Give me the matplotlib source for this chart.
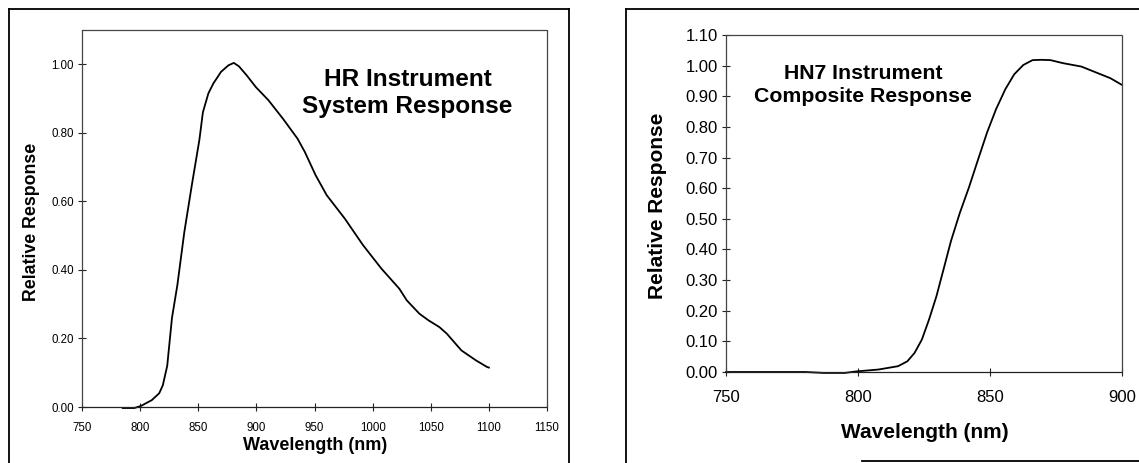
import matplotlib
matplotlib.use("Agg")
import matplotlib.pyplot as plt
from matplotlib.lines import Line2D
import numpy as np

plt.rcParams['font.family'] = ['Liberation Sans', 'DejaVu Sans']

# HR Instrument System Response
hr_wavelength = [785, 795, 800.7, 810, 816.4, 819.5, 823.3, 827.4, 832, 838, 844.6, 851, 854,
                 858.7, 863, 869.6, 876, 880.6, 885, 891.6, 899.4, 910.4, 922.9, 935.4,
                 941.7, 951, 960.5, 976, 991.8, 1007.5, 1023, 1029.4, 1040.3, 1048, 1057.5,
                 1063.8, 1076.4, 1088.9, 1098.3, 1100]
hr_response = [-0.003, -0.003, 0.003, 0.02, 0.04, 0.063, 0.12, 0.26, 0.355, 0.51, 0.65, 0.78, 0.86,
               0.915, 0.944, 0.978, 0.997, 1.004, 0.994, 0.968, 0.934, 0.895, 0.841, 0.783,
               0.744, 0.676, 0.618, 0.55, 0.472, 0.404, 0.345, 0.311, 0.272, 0.253, 0.233,
               0.214, 0.165, 0.136, 0.117, 0.115]

# HN7 Instrument Composite Response
hn7_wavelength = [750, 780, 787, 795, 799.5, 807.7, 815.2, 818.7, 821.4, 824.2, 826.9, 829.7,
                  832.4, 835.2, 838.6, 842, 845.5, 848.9, 852.3, 855.8, 859.2, 862.6, 866.1,
                  869.5, 872.9, 877.7, 884.6, 890.1, 895.6, 900]
hn7_response = [0.0, 0.0, -0.003, -0.003, 0.002, 0.008, 0.019, 0.035, 0.062, 0.106, 0.171, 0.247,
                0.335, 0.427, 0.52, 0.602, 0.694, 0.782, 0.858, 0.923, 0.972, 1.002, 1.018,
                1.019, 1.018, 1.008, 0.997, 0.978, 0.959, 0.937]

hr_xticks = [750, 800, 850, 900, 950, 1000, 1050, 1100, 1150]
hr_yticks = [0.0, 0.2, 0.4, 0.6, 0.8, 1.0]
hn7_xticks = [750, 800, 850, 900]
hn7_yticks = [0.0, 0.1, 0.2, 0.3, 0.4, 0.5, 0.6, 0.7, 0.8, 0.9, 1.0, 1.1]

W, H = 1139, 463
fig = plt.figure(figsize=(W / 100, H / 100), dpi=100)

def fx(px):
    return px / W

def fy(py):
    return 1 - py / H

# Panel borders
for xs, ys in [
    ([9, 9], [9, 470]), ([9, 569], [9, 9]), ([569, 569], [9, 470]),
    ([626, 626], [9, 470]), ([626, 1145], [9, 9]), ([862, 1145], [461, 461]),
]:
    fig.add_artist(Line2D([fx(x) for x in xs], [fy(y) for y in ys], color='black', lw=1.3))

def style_axes(ax, tick_size):
    for s in ax.spines.values():
        s.set_color('#444444')
        s.set_linestyle((0, (1.5, 1)))
        s.set_linewidth(0.9)
    ax.spines['bottom'].set_color('#222222')
    ax.tick_params(direction='inout', length=6, width=0.8, color='#222222',
                   labelsize=tick_size, pad=3)

# Left panel
ax1 = fig.add_axes([fx(82), fy(407), fx(465), 377 / H])
ax1.plot(hr_wavelength, hr_response, color='black', lw=1.3, clip_on=False)
ax1.set_xlim(750, 1150)
ax1.set_ylim(0, 1.1)
ax1.set_xticks(hr_xticks)
ax1.set_yticks(hr_yticks)
ax1.set_yticklabels([f"{v:.2f}" for v in hr_yticks])
style_axes(ax1, 8.3)
ax1.tick_params(axis='x', pad=8)
ax1.set_xlabel('Wavelength (nm)', fontsize=13, fontweight='bold')
ax1.xaxis.set_label_coords((315 - 82) / 465, (407 - 445) / 377)
ax1.xaxis.label.set_va('center')
ax1.set_ylabel('Relative Response', fontsize=12.8, fontweight='bold')
ax1.yaxis.set_label_coords((32 - 82) / 465, (407 - 222) / 377)
ax1.yaxis.label.set_va('center')
fig.text(fx(407.5), fy(93), 'HR Instrument\nSystem Response', fontsize=17.6,
         fontweight='bold', ha='center', va='center', linespacing=1.25)

# Right panel
ax2 = fig.add_axes([fx(726), fy(372), fx(396), 337 / H])
ax2.plot(hn7_wavelength, hn7_response, color='black', lw=1.3, clip_on=False)
ax2.set_xlim(750, 900)
ax2.set_ylim(0, 1.1)
ax2.set_xticks(hn7_xticks)
ax2.set_yticks(hn7_yticks)
ax2.set_yticklabels([f"{v:.2f}" for v in hn7_yticks])
style_axes(ax2, 12)
ax2.tick_params(axis='x', pad=10)
ax2.set_xlabel('Wavelength (nm)', fontsize=15, fontweight='bold')
ax2.xaxis.set_label_coords((925 - 726) / 396, (372 - 432) / 337)
ax2.xaxis.label.set_va('center')
ax2.set_ylabel('Relative Response', fontsize=15, fontweight='bold')
ax2.yaxis.set_label_coords((658 - 726) / 396, (372 - 206) / 337)
ax2.yaxis.label.set_va('center')
fig.text(fx(863), fy(85), 'HN7 Instrument\nComposite Response', fontsize=15.3,
         fontweight='bold', ha='center', va='center', linespacing=1.3)

fig.savefig('out.png', dpi=100, facecolor='white')
